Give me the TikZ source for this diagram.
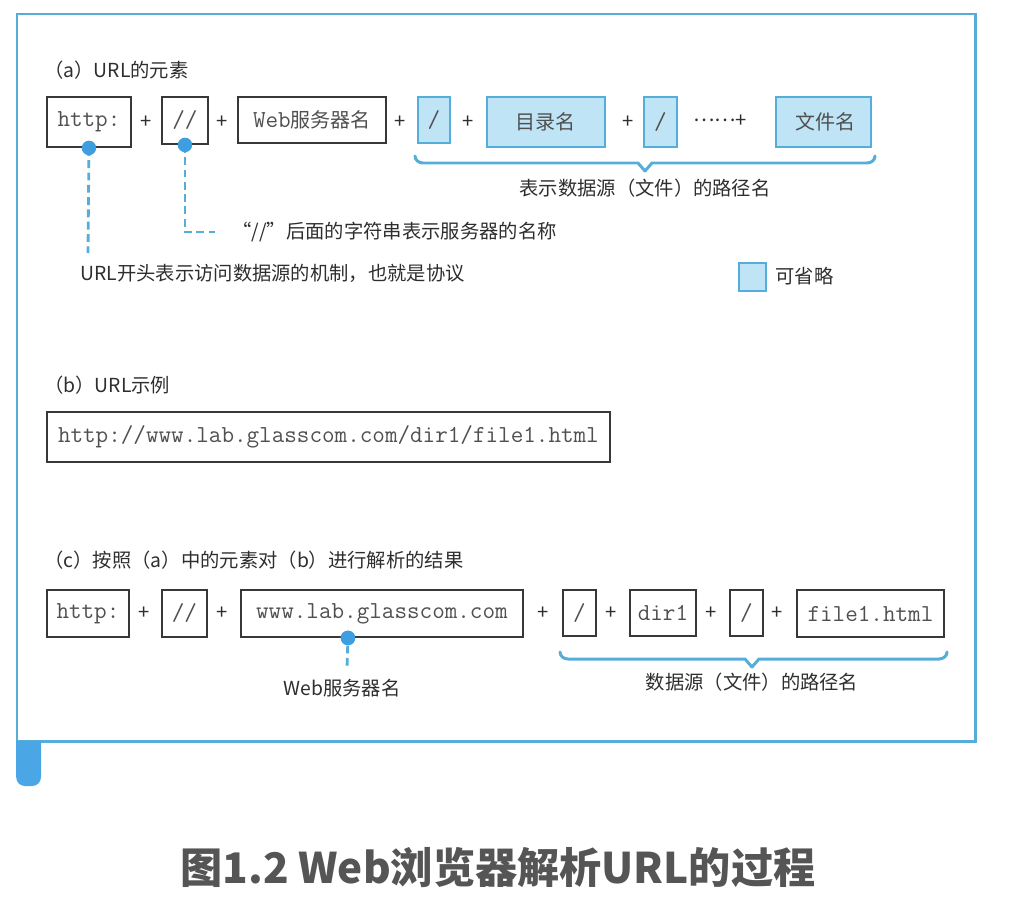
\documentclass[tikz,border=0pt]{standalone}
\usepackage{fontspec}
\setmainfont{Noto Sans CJK SC}
\setmonofont{Latin Modern Mono}
\usepackage{tikz}
\usetikzlibrary{positioning}

\definecolor{frameblue}{HTML}{55AEDA}
\definecolor{tabblue}{HTML}{4AA6E4}
\definecolor{optfill}{HTML}{BEE4F6}
\definecolor{dotblue}{HTML}{3D9FE0}
\definecolor{boxgray}{HTML}{383838}
\definecolor{textdark}{HTML}{2E2E2E}
\definecolor{monogray}{HTML}{505050}
\definecolor{capgray}{HTML}{555555}

\newcommand{\boxmono}{\ttfamily\fontsize{13.9}{16}\selectfont}
\newcommand{\cjkbox}{\rmfamily\fontsize{11.4}{14}\selectfont}
\newcommand{\notefont}{\rmfamily\fontsize{11}{13}\selectfont}

\tikzset{
  frame/.style={draw=frameblue, line width=1.7pt},
  plain/.style={draw=boxgray, line width=1.1pt, inner sep=0pt, anchor=north west, font=\boxmono, text=monogray},
  optional/.style={plain, draw=frameblue, fill=optfill},
  plus/.style={inner sep=0pt, font=\fontsize{11.5}{13}\selectfont, text=textdark},
  heading/.style={inner sep=0pt, anchor=west, font=\fontsize{11}{13}\selectfont, text=textdark},
  note/.style={inner sep=0pt, font=\notefont, text=textdark},
  dot/.style={circle, fill=dotblue, inner sep=0pt, minimum size=0.29cm},
  guide/.style={draw=frameblue, line width=1.6pt, dash pattern=on 4.5pt off 2.5pt},
  bracket/.style={draw=frameblue, line width=1.7pt, line cap=round, line join=round}
}

\begin{document}
\begin{tikzpicture}[x=0.02cm,y=-0.02cm]
\useasboundingbox (0,0) rectangle (1016,898);
% outer frame with tab
\draw[frame] (17,14) rectangle (975,741);
\fill[tabblue] (16.2,741) [rounded corners=5pt] -- (16.2,786) -- (41,786) [sharp corners] -- (41,741) -- cycle;

% (a) elements of a URL
\node[heading] (ta) at (44,70) {（a）URL的元素};
\node[plain, minimum width=1.68cm, minimum height=1.0cm] (ha) at (46,96) {http:};
\node[plus] (pa1) at (146,122) {+};
\node[plain, minimum width=0.92cm, minimum height=0.94cm] (sa) at (161,96) {//};
\node[plus] (pa2) at (222,122) {+};
\node[plain, minimum width=2.96cm, minimum height=0.92cm] (wa) at (237,96) {Web{\cjkbox 服务器名}};
\node[plus] (pa3) at (400,122) {+};
\node[optional, minimum width=0.64cm, minimum height=0.92cm] (s1a) at (417,96) {/};
\node[plus] (pa4) at (468,122) {+};
\node[optional, minimum width=2.36cm, minimum height=1.0cm] (da) at (486,96) {\cjkbox 目录名};
\node[plus] (pa5) at (628,122) {+};
\node[optional, minimum width=0.66cm, minimum height=1.0cm] (s2a) at (643,96) {/};
\node[plus] (more) at (720,121) {\raisebox{0.3em}{……}+};
\node[optional, minimum width=1.9cm, minimum height=1.0cm] (fa) at (775,96) {\cjkbox\hspace{0.1cm}文件名};

% brace under the path part
\draw[bracket] (415,156) to[out=-90,in=180] (423,163) -- (638,163) -- (645,171) -- (652,163) -- (867,163) to[out=0,in=-90] (875,156);
\node[note] (patha) at (645,188) {表示数据源（文件）的路径名};

% notes for http: and //
\node[note, anchor=west] (proto) at (80,273) {URL开头表示访问数据源的机制，也就是协议};
\node[note, anchor=west] (servname) at (232,232) {“//”后面的字符串表示服务器的名称};
\coordinate (e1) at (88,253);
\coordinate (e2) at (215,232);
\draw[guide] (ha.south) -- (e1);
\draw[guide] (sa.south) |- (e2);
\node[dot] (d1) at (ha.south) {};
\node[dot] (d2) at (sa.south) {};

% legend
\node[optional, minimum width=0.54cm, minimum height=0.56cm] (leg) at (738,262) {};
\node[note, anchor=west] (legtext) at (775,276) {可省略};

% (b) sample URL
\node[heading] (tb) at (44,385) {（b）URL示例};
\node[plain, minimum width=11.26cm, minimum height=1.0cm] (url) at (46,411) {http://www.lab.glasscom.com/dir1/file1.html};

% (c) parsed result
\node[heading] (tc) at (44,560) {（c）按照（a）中的元素对（b）进行解析的结果};
\node[plain, minimum width=1.64cm, minimum height=0.94cm] (hc) at (46,589) {http:};
\node[plus] (pc1) at (144,613) {+};
\node[plain, minimum width=0.9cm, minimum height=0.94cm] (sc) at (161,589) {//};
\node[plus] (pc2) at (222,613) {+};
\node[plain, minimum width=5.64cm, minimum height=0.94cm] (wc) at (240,589) {www.lab.glasscom.com};
\node[plus] (pc3) at (543,613) {+};
\node[plain, minimum width=0.66cm, minimum height=0.92cm] (s1c) at (562,589) {/};
\node[plus] (pc4) at (611,613) {+};
\node[plain, minimum width=1.32cm, minimum height=0.92cm] (dc) at (629,589) {dir1};
\node[plus] (pc5) at (711,613) {+};
\node[plain, minimum width=0.66cm, minimum height=0.92cm] (s2c) at (729,589) {/};
\node[plus] (pc6) at (777,613) {+};
\node[plain, minimum width=2.94cm, minimum height=0.94cm] (fc) at (796,589) {file1.html};

% server name note
\node[note] (webname) at (342,688) {Web服务器名};
\coordinate (e3) at (347,668);
\node[dot] (d3) at ([xshift=-0.68cm]wc.south) {};
\draw[guide] (d3) -- (e3);
\node[dot] at (d3) {};

% brace under the path part
\draw[bracket] (560,652) to[out=-90,in=180] (568,659) -- (745,659) -- (752,667) -- (759,659) -- (939,659) to[out=0,in=-90] (947,652);
\node[note] (pathc) at (752,682) {数据源（文件）的路径名};

% caption
\node[inner sep=0pt, font=\bfseries\fontsize{24}{29}\selectfont, text=capgray] (cap) at (498,867) {图1.2 Web浏览器解析URL的过程};
\end{tikzpicture}
\end{document}
